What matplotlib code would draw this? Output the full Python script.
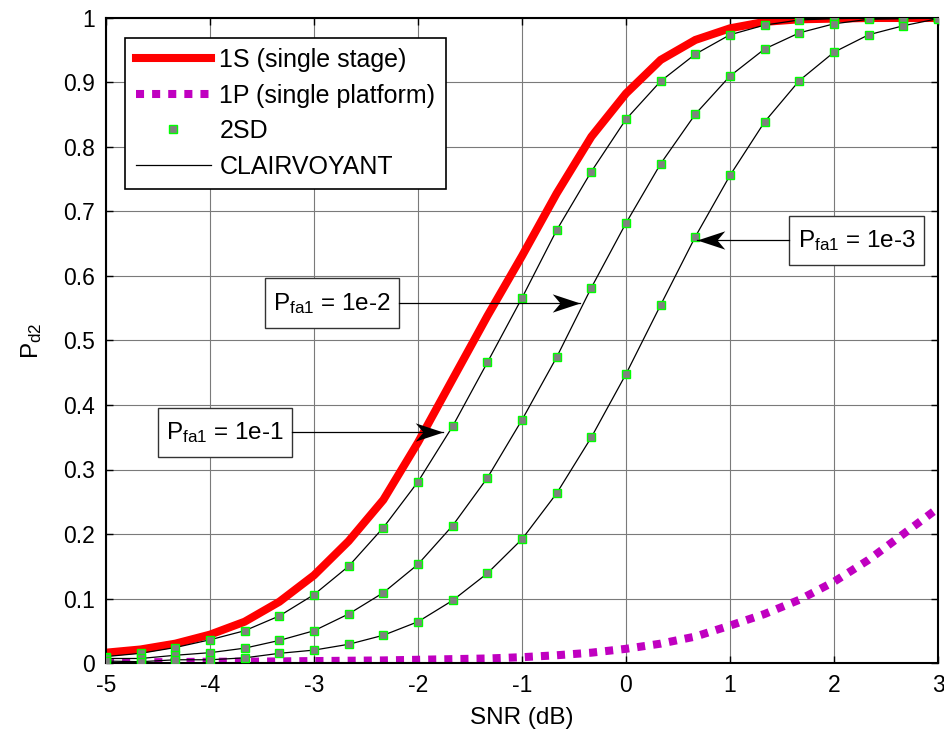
import matplotlib
matplotlib.use("Agg")
import matplotlib.pyplot as plt
from matplotlib.lines import Line2D
from matplotlib.patches import Rectangle
from matplotlib.path import Path

plt.rcParams['font.family'] = ['Liberation Sans', 'DejaVu Sans']
plt.rcParams['mathtext.fontset'] = 'custom'
plt.rcParams['mathtext.rm'] = 'Liberation Sans'
plt.rcParams['mathtext.it'] = 'Liberation Sans'

# ---- data ----
snr = [-5.0, -4.667, -4.333, -4.0, -3.667, -3.333, -3.0, -2.667, -2.333, -2.0,
       -1.667, -1.333, -1.0, -0.667, -0.333, 0.0, 0.333, 0.667, 1.0, 1.333,
       1.667, 2.0, 2.333, 2.667, 3.0]

p_1s = [0.016, 0.021, 0.030, 0.044, 0.064, 0.095, 0.136, 0.189, 0.253, 0.342,
        0.440, 0.538, 0.631, 0.728, 0.816, 0.883, 0.935, 0.966, 0.984, 0.994,
        0.998, 0.999, 1.0, 1.0, 1.0]

p_1p = [0.001, 0.001, 0.0015, 0.002, 0.002, 0.0025, 0.003, 0.0035, 0.004, 0.005,
        0.006, 0.007, 0.009, 0.012, 0.016, 0.022, 0.030, 0.041, 0.058, 0.076,
        0.098, 0.126, 0.160, 0.200, 0.240]

p_2sd_1e1 = [0.010, 0.015, 0.024, 0.036, 0.050, 0.073, 0.106, 0.150, 0.210, 0.281,
             0.367, 0.466, 0.566, 0.671, 0.762, 0.843, 0.902, 0.944, 0.974, 0.989,
             0.997, 0.999, 1.0, 1.0, 1.0]

p_2sd_1e2 = [0.007, 0.007, 0.012, 0.016, 0.023, 0.035, 0.050, 0.076, 0.109, 0.153,
             0.213, 0.287, 0.377, 0.474, 0.582, 0.682, 0.774, 0.851, 0.910, 0.952,
             0.977, 0.991, 0.998, 0.999, 1.0]

p_2sd_1e3 = [0.003, 0.002, 0.005, 0.005, 0.008, 0.015, 0.020, 0.029, 0.043, 0.064,
             0.097, 0.139, 0.192, 0.263, 0.350, 0.448, 0.555, 0.661, 0.756, 0.839,
             0.903, 0.947, 0.974, 0.988, 0.999]

legend_labels = ['1S (single stage)', '1P (single platform)', '2SD', 'CLAIRVOYANT']
x_ticks = [-5, -4, -3, -2, -1, 0, 1, 2, 3]
y_ticks = [0, 0.1, 0.2, 0.3, 0.4, 0.5, 0.6, 0.7, 0.8, 0.9, 1.0]
y_ticklabels = ['0', '0.1', '0.2', '0.3', '0.4', '0.5', '0.6', '0.7', '0.8', '0.9', '1']
annot_labels = ['1e-1', '1e-2', '1e-3']

FS_TICK = 16.5
FS = 17.5
FS_LEG = 18

fig = plt.figure(figsize=(9.45, 7.32), dpi=100)
ax = fig.add_axes([106/945, 69/732, 832/945, 645/732])

curves = [p_2sd_1e1, p_2sd_1e2, p_2sd_1e3]
for c in curves:
    ax.plot(snr, c, color='black', lw=0.9, zorder=3)

ax.plot(snr, p_1s, color='#ff0000', lw=5.8, zorder=2, solid_joinstyle='miter')
ax.plot(snr, p_1p, color='#c000c0', lw=5.8, linestyle=(0, (1, 1)),
        dash_capstyle='butt', zorder=2)

for c in curves:
    ax.plot(snr, c, linestyle='none', marker='s', markersize=6,
            markerfacecolor='#808080', markeredgecolor='#00ff00',
            markeredgewidth=1.0, zorder=4)

ax.set_xlim(-5, 3)
ax.set_ylim(0, 1)
ax.set_xticks(x_ticks)
ax.set_xticklabels([str(t) for t in x_ticks])
ax.set_yticks(y_ticks)
ax.set_yticklabels(y_ticklabels)
ax.tick_params(direction='in', length=5, width=1, top=True, right=True,
               labelsize=FS_TICK, pad=8)
ax.grid(True, color='#7a7a7a', lw=0.8, linestyle='-')
ax.set_axisbelow(True)
for s in ax.spines.values():
    s.set_linewidth(1.5)

ax.set_xlabel('SNR (dB)', fontsize=FS, labelpad=7)
ax.set_ylabel(r'P$_{\mathregular{d2}}$', fontsize=FS, labelpad=14)

handles = [
    Line2D([], [], color='#ff0000', lw=5.8),
    Line2D([], [], color='#c000c0', lw=5.8, linestyle=(0, (1, 1)), dash_capstyle='butt'),
    Line2D([], [], linestyle='none', marker='s', markersize=6,
           markerfacecolor='#808080', markeredgecolor='#00ff00', markeredgewidth=1.0),
    Line2D([], [], color='black', lw=0.9),
]
leg = ax.legend(handles, legend_labels, loc='upper left',
                bbox_to_anchor=(0.023, 0.9695), borderaxespad=0,
                fontsize=FS_LEG, handlelength=3.0, handletextpad=0.35,
                labelspacing=0.46, borderpad=0.42, numpoints=1,
                fancybox=False, framealpha=1, edgecolor='black')
leg.get_frame().set_linewidth(1.2)

# notched arrow heads (tip at origin)
head_right = Path([(0, 0), (-1, 0.33), (-0.72, 0), (-1, -0.33), (0, 0)],
                  [Path.MOVETO, Path.LINETO, Path.LINETO, Path.LINETO, Path.CLOSEPOLY])
head_left = Path([(0, 0), (1, 0.33), (0.72, 0), (1, -0.33), (0, 0)],
                 [Path.MOVETO, Path.LINETO, Path.LINETO, Path.LINETO, Path.CLOSEPOLY])

# annotation boxes (data coords): x0, x1, y0, y1 ; arrow tips
ann_boxes = [(-4.503, -3.214, 0.319, 0.396),
             (-3.471, -2.183, 0.519, 0.597),
             (1.567, 2.865, 0.617, 0.693)]
ann_tips = [(-1.757, 0.358), (-0.442, 0.558), (0.680, 0.656)]
for lab, (x0, x1, y0, y1), tip in zip(annot_labels, ann_boxes, ann_tips):
    ax.add_patch(Rectangle((x0, y0), x1 - x0, y1 - y0, facecolor='white',
                           edgecolor='#333333', lw=1.0, zorder=6))
    ax.text((x0 + x1) / 2, (y0 + y1) / 2, r'P$_{\mathregular{fa1}}$ = ' + lab,
            ha='center', va='center', fontsize=FS, zorder=7)
    pointing_right = tip[0] > x1
    start_x = x1 if pointing_right else x0
    ax.plot([start_x, tip[0]], [tip[1], tip[1]], color='black', lw=0.9, zorder=6)
    ax.plot([tip[0]], [tip[1]], linestyle='none',
            marker=head_right if pointing_right else head_left,
            markersize=40, color='black', markeredgewidth=0, zorder=7)

fig.savefig('out.png', dpi=100)
